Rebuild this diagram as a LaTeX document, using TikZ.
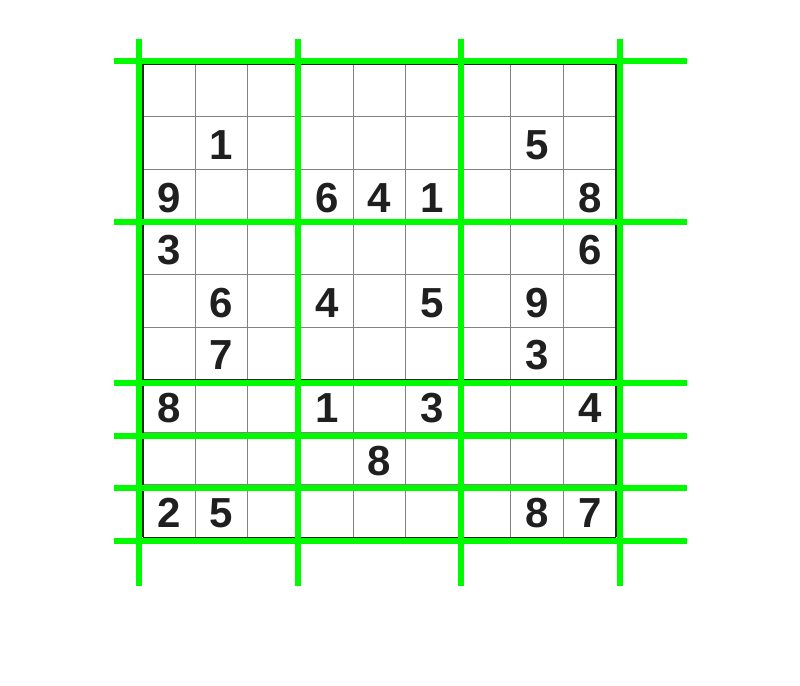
\documentclass[tikz,border=0pt]{standalone}
\usepackage{fontspec}
\setmainfont{Liberation Sans}
\definecolor{boxgreen}{RGB}{0,250,0}
\definecolor{gridgray}{RGB}{130,130,130}
\begin{document}
\begin{tikzpicture}[x=1pt,y=-1pt,
  digit/.style={font=\fontsize{42}{50}\selectfont\bfseries,text=black!88},
  thinline/.style={gridgray,line width=1pt},
  boxline/.style={black!85,line width=1.6pt},
  greenline/.style={boxgreen,line width=6pt}]
\useasboundingbox (0,0) rectangle (800,685);
\foreach \i in {0,...,9}
{\draw[thinline] (142.7+52.6*\i,64) -- +(0,473.4);
\draw[thinline] (142.7,64+52.6*\i) -- +(473.4,0);}
\foreach \i in {0,3,6,9}
{\draw[boxline] (142.7+52.6*\i,64) -- +(0,473.4);
\draw[boxline] (142.7,64+52.6*\i) -- +(473.4,0);}
\foreach \y in {61,222,383,436,488,541}
\draw[greenline] (114,\y) -- (687,\y);
\foreach \x in {139,298,461,620}
\draw[greenline] (\x,39) -- (\x,586);
\foreach \r/\c/\n in {1/1/1,1/7/5,2/0/9,2/3/6,2/4/4,2/5/1,2/8/8,3/0/3,3/8/6,
  4/1/6,4/3/4,4/5/5,4/7/9,5/1/7,5/7/3,6/0/8,6/3/1,6/5/3,6/8/4,7/4/8,
  8/0/2,8/1/5,8/7/8,8/8/7}
\node[digit] (d\r\c) at (169+52.6*\c,92.5+52.6*\r) {\n};
\end{tikzpicture}
\end{document}
